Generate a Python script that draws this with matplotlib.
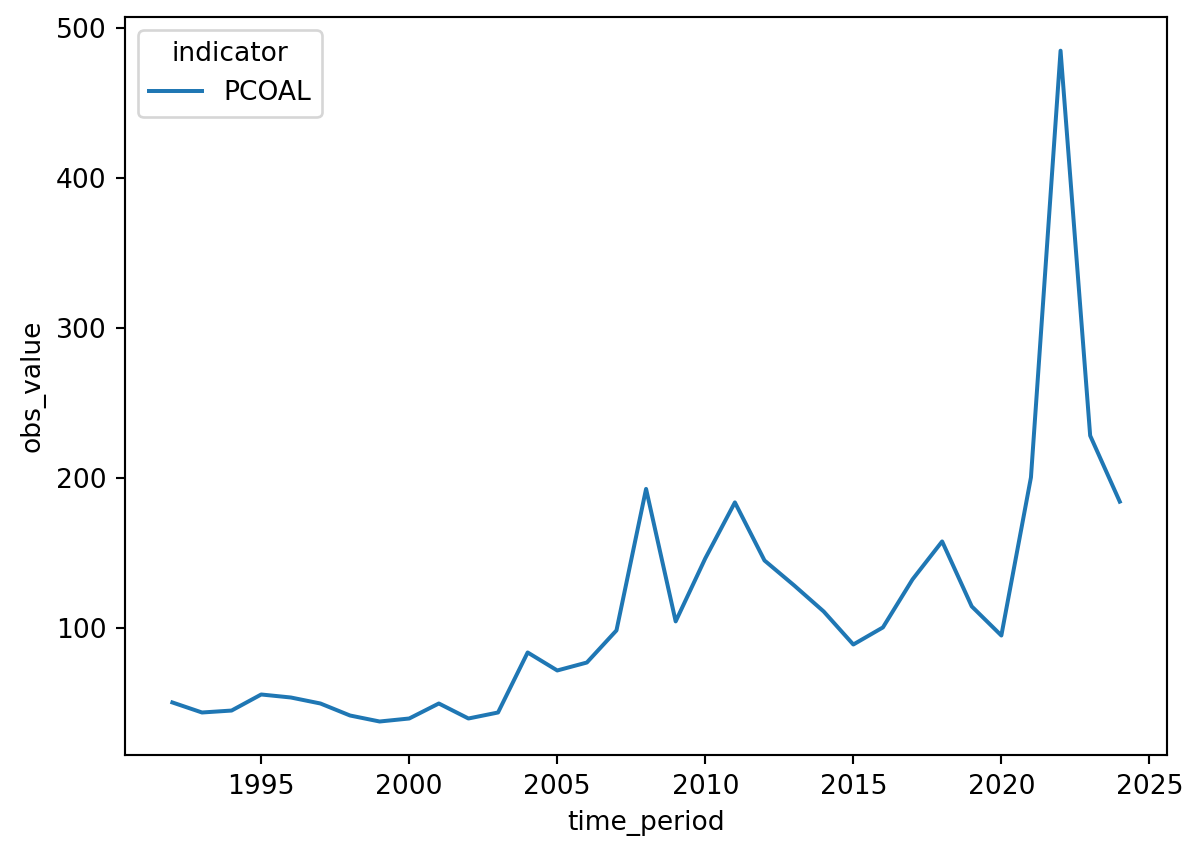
# line chart of PCOAL obs_value over time
import numpy as np
import pandas as pd
import matplotlib
matplotlib.use('Agg')
import matplotlib.pyplot as plt
import seaborn as sns

years = list(range(1992, 2025))
values = [50.7, 44.0, 45.3, 56.0, 54.0, 50.0, 42.0, 38.0, 40.0, 50.0,
          40.0, 44.0, 84.0, 72.0, 77.3, 98.7, 193.0, 104.7, 146.7, 184.0,
          145.3, 128.7, 111.3, 89.3, 100.7, 132.7, 158.0, 114.7, 95.3, 200.7,
          485.0, 228.5, 184.5]
indicator = ['PCOAL'] * len(years)

df = pd.DataFrame({'time_period': years, 'obs_value': values, 'indicator': indicator})

dpi = 191
fig, ax = plt.subplots(figsize=(1202 / dpi, 858 / dpi), dpi=dpi)
fig.subplots_adjust(left=0.104, right=0.971, top=0.980, bottom=0.12)
sns.lineplot(data=df, x='time_period', y='obs_value', hue='indicator', ax=ax)
ax.legend(title='indicator', loc='upper left')

plt.savefig('out.png', dpi=dpi)
